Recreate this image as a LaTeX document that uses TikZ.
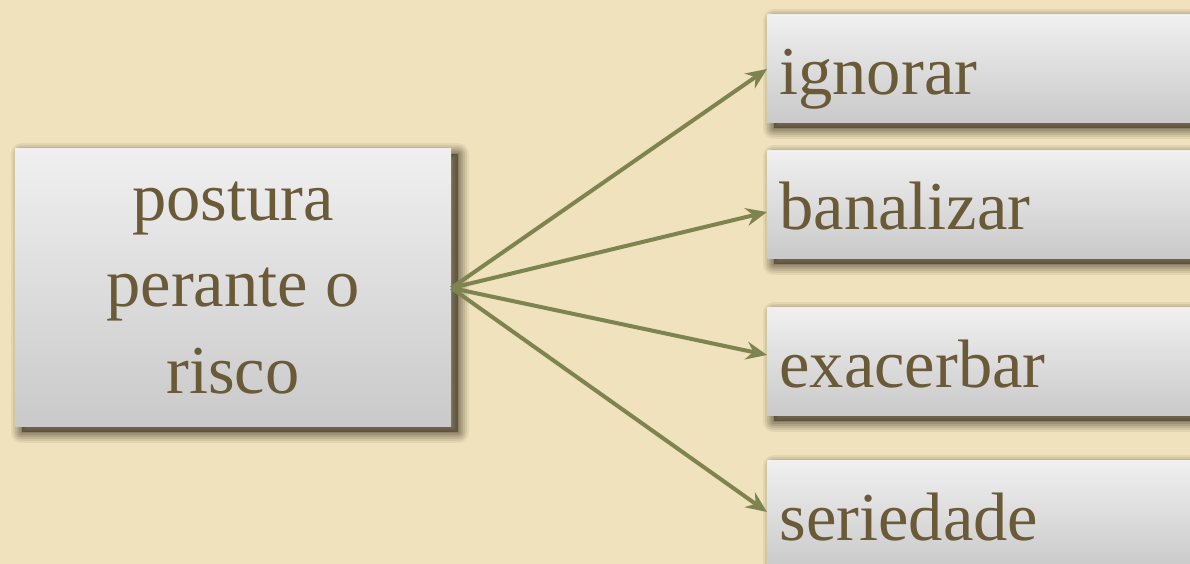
\documentclass[tikz,border=0pt]{standalone}
\usepackage{fontspec}
\setmainfont{Liberation Serif}
\usetikzlibrary{arrows.meta}
\definecolor{bgbeige}{HTML}{EFE2BD}
\definecolor{txtbrown}{HTML}{6B5A38}
\definecolor{arrowolive}{HTML}{7D8450}
\definecolor{shadowbrown}{HTML}{3A3120}
\begin{document}
\begin{tikzpicture}
	[shadowlayer/.style 2 args={preaction={fill=shadowbrown,draw=shadowbrown,line width=#1,line join=round,
		opacity=#2,transform canvas={shift={(0.13,-0.11)}}}},
	 box/.style={rectangle,shadowlayer={0.44cm}{0.07},shadowlayer={0.36cm}{0.09},shadowlayer={0.28cm}{0.11},
		shadowlayer={0.20cm}{0.13},shadowlayer={0.12cm}{0.15},shadowlayer={0.04cm}{0.18},
		fill=white!85!black,postaction={shade,top color=white!94!black,bottom color=white!79!black},
		text=txtbrown,font=\fontsize{39}{49}\selectfont},
	 mainbox/.style={box,minimum width=8.72cm,minimum height=5.56cm,align=center},
	 choice/.style={box,anchor=west,text width=9.5cm,align=left,inner xsep=0.24cm,inner ysep=0.03cm,
		text height=1.56cm,text depth=0.54cm},
	 link/.style={draw=arrowolive,line width=0.08cm,-{Stealth[length=0.42cm,width=0.36cm,inset=0.14cm]}}]
	\clip (0,0) rectangle (23.8,11.28);
	\fill[bgbeige] (0,0) rectangle (23.8,11.28);
	\node[mainbox,name=postura] at (4.66,5.52) {postura\\perante o\\risco};
	\node[choice,name=ignorar] at (15.34,9.90) {ignorar};
	\node[choice,name=banalizar] at (15.34,7.19) {banalizar};
	\node[choice,name=exacerbar] at (15.34,4.04) {exacerbar};
	\node[choice,name=seriedade] at (15.34,0.98) {seriedade};
	\draw[link](postura.east)--(ignorar.west);
	\draw[link](postura.east)--([yshift=-0.15cm]banalizar.west);
	\draw[link](postura.east)--([yshift=0.14cm]exacerbar.west);
	\draw[link](postura.east)--([yshift=0.06cm]seriedade.west);
\end{tikzpicture}
\end{document}
